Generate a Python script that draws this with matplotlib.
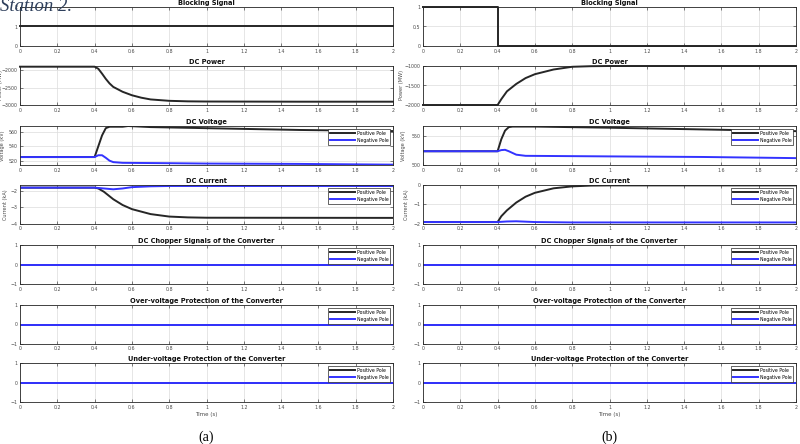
import matplotlib
matplotlib.use("Agg")
import matplotlib.pyplot as plt

# ---------------- data ----------------
x_ticks = [0, 0.2, 0.4, 0.6, 0.8, 1.0, 1.2, 1.4, 1.6, 1.8, 2.0]
x_tick_labels = ["0", "0.2", "0.4", "0.6", "0.8", "1", "1.2", "1.4", "1.6", "1.8", "2"]

titles = ["Blocking Signal", "DC Power", "DC Voltage", "DC Current",
          "DC Chopper Signals of the Converter",
          "Over-voltage Protection of the Converter",
          "Under-voltage Protection of the Converter"]
legend_labels = ["Positive Pole", "Negative Pole"]

# (a) column
a_block_t = [0, 2.0]
a_block = [1, 1]

a_power_t = [0, 0.4, 0.42, 0.44, 0.46, 0.48, 0.5, 0.55, 0.6, 0.65, 0.7, 0.8, 0.9, 1.0, 1.5, 2.0]
a_power = [-1900, -1900, -1960, -2100, -2250, -2380, -2480, -2620, -2720, -2790, -2840, -2880, -2895, -2900, -2905, -2905]

a_vpos_t = [0, 0.4, 0.42, 0.44, 0.46, 0.48, 0.55, 0.58, 0.7, 1.0, 1.5, 2.0]
a_vpos = [525, 525, 540, 555, 565, 567, 567, 568, 566.5, 565, 562.5, 561]
a_vneg_t = [0, 0.4, 0.42, 0.44, 0.46, 0.48, 0.5, 0.55, 0.8, 1.0, 1.5, 2.0]
a_vneg = [525, 525, 527.5, 527.5, 524, 520, 518, 517, 516.5, 516, 515.5, 514.5]

a_ipos_t = [0, 0.4, 0.42, 0.45, 0.5, 0.55, 0.6, 0.7, 0.8, 0.9, 1.0, 2.0]
a_ipos = [-1.8, -1.8, -1.85, -2.05, -2.5, -2.85, -3.1, -3.4, -3.55, -3.6, -3.62, -3.63]
a_ineg_t = [0, 0.4, 0.45, 0.5, 0.55, 0.6, 0.7, 0.8, 1.0, 2.0]
a_ineg = [-1.8, -1.8, -1.85, -1.9, -1.85, -1.77, -1.72, -1.7, -1.7, -1.7]

# (b) column
b_block_t = [0, 0.4, 0.4, 2.0]
b_block = [1, 1, 0, 0]

b_power_t = [0, 0.4, 0.42, 0.45, 0.5, 0.55, 0.6, 0.7, 0.8, 0.9, 1.0, 2.0]
b_power = [-2000, -2000, -1850, -1650, -1460, -1310, -1210, -1090, -1020, -1005, -1000, -1000]

b_vpos_t = [0, 0.4, 0.42, 0.44, 0.46, 0.48, 0.6, 1.0, 1.5, 2.0]
b_vpos = [524, 524, 545, 560, 566, 567, 567, 565, 562, 559]
b_vneg_t = [0, 0.4, 0.42, 0.44, 0.46, 0.5, 0.55, 1.0, 1.5, 2.0]
b_vneg = [524, 524, 526, 526.5, 524, 518, 516, 515, 514, 512]

b_ipos_t = [0, 0.4, 0.42, 0.45, 0.5, 0.55, 0.6, 0.7, 0.8, 0.9, 1.0, 2.0]
b_ipos = [-1.9, -1.9, -1.6, -1.3, -0.9, -0.6, -0.4, -0.17, -0.07, -0.03, -0.02, -0.02]
b_ineg_t = [0, 0.4, 0.45, 0.5, 0.6, 0.8, 2.0]
b_ineg = [-1.9, -1.9, -1.87, -1.86, -1.9, -1.92, -1.92]

zero_t = [0, 2.0]
zero_pos = [0, 0]
zero_neg = [0, 0]

# ---------------- style ----------------
W, H = 800, 444
fig = plt.figure(figsize=(W / 100, H / 100), dpi=100)
fig.patch.set_facecolor("white")

BLACK = "#262626"
BLUE = "#3333ff"
GRID = "#dcdcdc"
TICKC = "#4a4a4a"

row_tops = [7, 66, 126, 185, 245, 305, 363]
row_h = 39
col_lefts = [20, 423]
col_w = 373

# x positions (pixels) of the y-label centres for each column
ylabel_x = [{"Power (MW)": 3, "Voltage (kV)": 5, "Current (kA)": 8},
            {"Power (MW)": 404, "Voltage (kV)": 406, "Current (kA)": 409}]


def make_ax(col, row):
    l = col_lefts[col]
    t = row_tops[row]
    ax = fig.add_axes([l / W, 1 - (t + row_h) / H, col_w / W, row_h / H])
    ax.set_xlim(0, 2)
    ax.set_xticks(x_ticks)
    ax.set_xticklabels(x_tick_labels)
    ax.grid(True, color=GRID, linewidth=0.5)
    ax.set_axisbelow(True)
    for s in ax.spines.values():
        s.set_color(BLACK)
        s.set_linewidth(0.6)
    ax.tick_params(direction="in", length=2, width=0.5, labelsize=3.4,
                   colors=TICKC, top=True, right=True, pad=1.8)
    ax.set_title(titles[row], fontsize=4.8, fontweight="bold", pad=1.5, color="#111111")
    return ax


def set_ylabel(ax, col, text):
    ax.set_ylabel(text, fontsize=3.6, color=TICKC)
    xpx = ylabel_x[col][text]
    ax.yaxis.set_label_coords((xpx - col_lefts[col]) / col_w, 0.5)


def add_legend(ax):
    ax.legend(legend_labels, loc="upper right", fontsize=3.3, frameon=True,
              fancybox=False, edgecolor=BLACK, framealpha=1, handlelength=5.5,
              borderpad=0.4, labelspacing=0.5, handletextpad=0.4,
              borderaxespad=0.6).get_frame().set_linewidth(0.5)


columns = [
    dict(block=(a_block_t, a_block, (0, 2), [0, 1, 2], ["0", "1", "2"]),
         power=(a_power_t, a_power, (-3000, -1880), [-3000, -2500, -2000]),
         vpos=(a_vpos_t, a_vpos), vneg=(a_vneg_t, a_vneg), vlim=(514, 568), vt=[520, 540, 560],
         ipos=(a_ipos_t, a_ipos), ineg=(a_ineg_t, a_ineg), ilim=(-4, -1.64), it=[-4, -3, -2]),
    dict(block=(b_block_t, b_block, (0, 1), [0, 0.5, 1], ["0", "0.5", "1"]),
         power=(b_power_t, b_power, (-2000, -1000), [-2000, -1500, -1000]),
         vpos=(b_vpos_t, b_vpos), vneg=(b_vneg_t, b_vneg), vlim=(500, 568), vt=[500, 550],
         ipos=(b_ipos_t, b_ipos), ineg=(b_ineg_t, b_ineg), ilim=(-2, 0), it=[-2, -1, 0]),
]

for c, d in enumerate(columns):
    # Blocking
    ax = make_ax(c, 0)
    bt, bv, blim, bticks, blabels = d["block"]
    ax.plot(bt, bv, color=BLACK, lw=1.4, clip_on=False)
    ax.set_ylim(*blim)
    ax.set_yticks(bticks)
    ax.set_yticklabels(blabels)

    # Power
    ax = make_ax(c, 1)
    pt, pv, plim, pticks = d["power"]
    ax.plot(pt, pv, color=BLACK, lw=1.4, clip_on=False)
    ax.set_ylim(*plim)
    ax.set_yticks(pticks)
    set_ylabel(ax, c, "Power (MW)")

    # Voltage
    ax = make_ax(c, 2)
    ax.plot(*d["vpos"], color=BLACK, lw=1.4)
    ax.plot(*d["vneg"], color=BLUE, lw=1.4)
    ax.set_ylim(*d["vlim"])
    ax.set_yticks(d["vt"])
    set_ylabel(ax, c, "Voltage (kV)")
    add_legend(ax)

    # Current
    ax = make_ax(c, 3)
    ax.plot(*d["ipos"], color=BLACK, lw=1.4)
    ax.plot(*d["ineg"], color=BLUE, lw=1.4)
    ax.set_ylim(*d["ilim"])
    ax.set_yticks(d["it"])
    set_ylabel(ax, c, "Current (kA)")
    add_legend(ax)

    for r in (4, 5, 6):
        ax = make_ax(c, r)
        ax.plot(zero_t, zero_pos, color=BLACK, lw=1.4)
        ax.plot(zero_t, zero_neg, color=BLUE, lw=1.4)
        ax.set_ylim(-1, 1)
        ax.set_yticks([-1, 0, 1])
        add_legend(ax)
        if r == 6:
            ax.set_xlabel("Time (s)", fontsize=4.0, color=TICKC, labelpad=2)

    fig.text((col_lefts[c] + col_w / 2) / W, 1 - 437 / H, "(a)" if c == 0 else "(b)",
             ha="center", va="center", fontsize=10, family="Liberation Serif")

fig.text(0 / W, 1 - 11 / H, "Station 2.", ha="left", va="baseline", fontsize=13.5,
         family="Liberation Serif", style="italic", color="#2e3f5c")

fig.savefig("out.png", dpi=100)
